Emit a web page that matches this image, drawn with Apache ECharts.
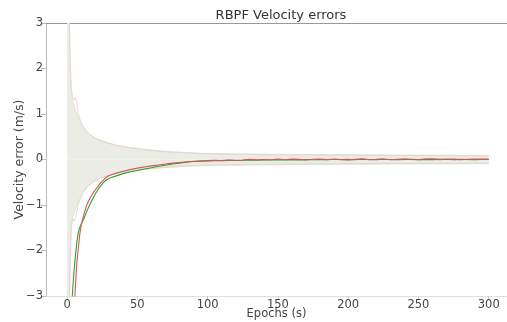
<!DOCTYPE html>
<html><head><meta charset="utf-8">
<script src="https://cdn.jsdelivr.net/npm/echarts@6/dist/echarts.min.js"></script>
<style>html,body{margin:0;padding:0;background:#fff}#c{width:507px;height:322px}</style>
</head><body><div id="c"></div>
<script>
const epochs = [0,1,2,3,4,5,6,7,8,9,10,
  12,14,16,18,20,22,24,26,28,30,
  35,40,45,50,55,60,65,70,75,80,85,90,95,
  100,105,110,115,120,125,130,135,140,145,150,155,160,165,170,175,180,185,190,195,200,
  205,210,215,220,225,230,235,240,245,250,255,260,265,270,275,280,285,290,295,300];

const envPinkUp = [12,5.2,2.4,1.55,1.35,1.3,1.38,1.22,1.0,0.9,0.82,
  0.7,0.62,0.56,0.51,0.47,0.44,0.41,0.39,0.37,0.35,
  0.31,0.28,0.255,0.235,0.215,0.2,0.185,0.172,0.162,0.152,0.144,0.137,0.13,
  0.125,0.122,0.119,0.117,0.115,0.113,0.111,0.109,0.108,0.106,0.105,0.104,0.102,0.101,0.1,0.099,0.098,0.097,0.096,0.095,0.094,0.093,0.092,0.092,0.091,0.09,0.089,0.089,0.088,0.087,0.087,0.086,0.085,0.085,0.084,0.084,0.083,0.083,0.082,0.082,0.081];
const envPinkLo = [-12,-5.3,-2.5,-1.5,-1.3,-1.35,-1.28,-1.15,-0.98,-0.9,-0.82,
  -0.7,-0.61,-0.55,-0.5,-0.46,-0.43,-0.4,-0.38,-0.36,-0.34,
  -0.3,-0.275,-0.25,-0.232,-0.213,-0.198,-0.183,-0.17,-0.16,-0.15,-0.142,-0.135,-0.129,
  -0.124,-0.121,-0.118,-0.116,-0.114,-0.112,-0.11,-0.109,-0.107,-0.106,-0.104,-0.103,-0.102,-0.1,-0.099,-0.098,-0.097,-0.096,-0.095,-0.094,-0.094,-0.093,-0.092,-0.091,-0.09,-0.09,-0.089,-0.088,-0.088,-0.087,-0.086,-0.086,-0.085,-0.085,-0.084,-0.084,-0.083,-0.083,-0.082,-0.082,-0.081];
const envGreenUp = [40,5.0,2.2,1.45,1.28,1.18,1.08,1.0,0.93,0.86,0.8,
  0.69,0.61,0.55,0.51,0.47,0.44,0.42,0.4,0.38,0.36,
  0.32,0.29,0.265,0.245,0.225,0.21,0.195,0.182,0.172,0.162,0.154,0.147,0.14,
  0.135,0.132,0.129,0.127,0.125,0.123,0.121,0.119,0.118,0.116,0.115,0.114,0.112,0.111,0.11,0.109,0.108,0.107,0.106,0.105,0.104,0.103,0.102,0.102,0.101,0.1,0.099,0.099,0.098,0.097,0.097,0.096,0.095,0.095,0.094,0.094,0.093,0.093,0.092,0.092,0.091];
const envGreenLo = [-40,-5.1,-2.3,-1.42,-1.25,-1.2,-1.1,-1.02,-0.94,-0.87,-0.81,
  -0.7,-0.62,-0.56,-0.51,-0.47,-0.44,-0.41,-0.39,-0.37,-0.35,
  -0.315,-0.285,-0.26,-0.242,-0.222,-0.207,-0.192,-0.18,-0.17,-0.16,-0.152,-0.145,-0.139,
  -0.134,-0.131,-0.128,-0.126,-0.124,-0.122,-0.12,-0.119,-0.117,-0.116,-0.114,-0.113,-0.112,-0.11,-0.109,-0.108,-0.107,-0.106,-0.105,-0.104,-0.104,-0.103,-0.102,-0.101,-0.1,-0.1,-0.099,-0.098,-0.098,-0.097,-0.096,-0.096,-0.095,-0.095,-0.094,-0.094,-0.093,-0.093,-0.092,-0.092,-0.091];
const errRed = [-30,-15,-9,-6,-4.0,-3.3,-2.75,-2.25,-1.95,-1.65,-1.45,
  -1.2,-1.0,-0.87,-0.76,-0.67,-0.59,-0.51,-0.45,-0.39,-0.35,
  -0.3,-0.26,-0.22,-0.19,-0.165,-0.14,-0.12,-0.1,-0.08,-0.065,-0.05,-0.04,-0.032,
  -0.025,-0.02,-0.022,-0.012,-0.015,-0.01,0.005,-0.008,0.0,-0.005,0.01,-0.004,0.008,0.002,-0.01,0.004,0.012,-0.002,0.006,0.0,-0.008,0.005,0.014,-0.004,0.002,0.01,-0.006,0.003,0.012,0.0,-0.005,0.008,0.015,-0.002,0.004,0.01,-0.004,0.006,0.012,0.002,0.008];
const errGreen = [-25,-12,-6,-3.4,-2.85,-2.43,-2.1,-1.8,-1.6,-1.5,-1.42,
  -1.3,-1.14,-1.0,-0.88,-0.76,-0.66,-0.58,-0.5,-0.45,-0.41,
  -0.36,-0.31,-0.27,-0.24,-0.21,-0.18,-0.15,-0.125,-0.1,-0.08,-0.06,-0.045,-0.035,
  -0.03,-0.028,-0.025,-0.02,-0.022,-0.018,-0.012,-0.015,-0.01,-0.012,-0.006,-0.01,-0.004,-0.008,-0.002,-0.006,0.0,-0.005,0.004,-0.003,0.002,-0.004,0.005,0.0,-0.003,0.004,0.0,-0.004,0.002,0.006,-0.002,0.003,-0.003,0.002,0.005,-0.002,0.003,0.0,-0.004,0.002,0.001];

const xTicks = [0,50,100,150,200,250,300];

const pair = arr => epochs.map((x, i) => [x, arr[i]]);
const font = 'DejaVu Sans';
const chart = echarts.init(document.getElementById('c'), null, {renderer: 'canvas'});
const lineS = (name, arr, color, width, z, area) => ({
  name, type: 'line', data: pair(arr), symbol: 'none', z, clip: true,
  lineStyle: {color, width}, itemStyle: {color},
  areaStyle: area ? {color: '#ecece7', opacity: 1, origin: 0} : undefined,
  animation: false
});
chart.setOption({
  animation: false,
  title: {text: 'RBPF Velocity errors', left: 276, top: 4, textAlign: 'center',
    textStyle: {fontFamily: font, fontSize: 13, fontWeight: 'normal', color: '#333'}},
  grid: {left: 46, right: 0, top: 23, bottom: 26, containLabel: false, outerBoundsMode: 'none'},
  xAxis: [{
    type: 'value', min: -15, max: 313, position: 'bottom',
    name: 'Epochs (s)', nameLocation: 'middle', nameGap: 12, nameMoveOverlap: false,
    nameTextStyle: {fontFamily: font, fontSize: 11.5, color: '#444'},
    axisLine: {show: true, onZero: false, lineStyle: {color: '#e0e0e0', width: 1}},
    axisTick: {show: true, length: 3, customValues: xTicks, lineStyle: {color: '#ccc'}},
    axisLabel: {customValues: xTicks, fontFamily: font, fontSize: 11.5, color: '#444', margin: 3},
    splitLine: {show: false}
  }, {
    type: 'value', min: -15, max: 313, position: 'top',
    axisLine: {show: true, onZero: false, lineStyle: {color: '#999', width: 1}},
    axisTick: {show: false}, axisLabel: {show: false}, splitLine: {show: false}
  }],
  yAxis: {
    type: 'value', min: -3, max: 3, interval: 1,
    name: 'Velocity error (m/s)', nameLocation: 'middle', nameGap: 20, nameMoveOverlap: false,
    nameTextStyle: {fontFamily: font, fontSize: 12.5, color: '#444'},
    axisLine: {show: true, onZero: false, lineStyle: {color: '#bbb', width: 1}},
    axisTick: {show: true, length: 5, lineStyle: {color: '#bbb'}},
    axisLabel: {fontFamily: font, fontSize: 11.5, color: '#444', margin: 3,
      formatter: v => (v < 0 ? '\u2212' + Math.abs(v) : String(v))},
    splitLine: {show: false}
  },
  series: [
    lineS('fillUp', envGreenUp, '#cdeacd', 0.8, 1, true),
    lineS('fillLo', envGreenLo, '#cdeacd', 0.8, 1, true),
    lineS('pinkUp', envPinkUp, '#f2c9c9', 0.8, 2, false),
    lineS('pinkLo', envPinkLo, '#f2c9c9', 0.8, 2, false),
    lineS('green', errGreen, '#2ca02c', 1.1, 3, false),
    lineS('red', errRed, '#d35656', 1.1, 4, false)
  ]
});
</script></body></html>
